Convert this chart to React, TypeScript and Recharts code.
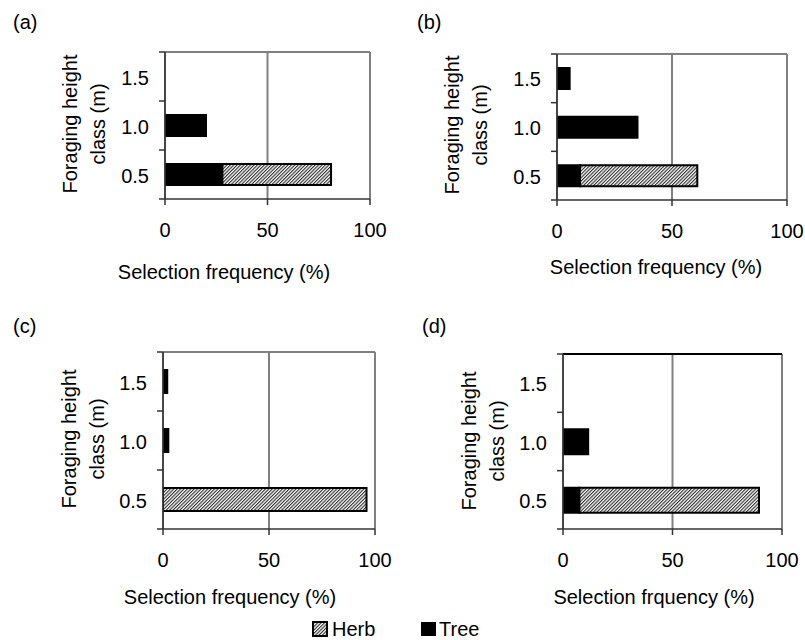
import React from "react";
import { Bar, BarChart, CartesianGrid, XAxis, YAxis } from "recharts";

// foraging height classes, top to bottom
const HEIGHT_CLASSES = ["1.5", "1.0", "0.5"];
const X_TICKS = [0, 50, 100];

// selection frequency (%) per height class
const TREE_A = [0, 20, 28];
const HERB_A = [0, 0, 53];
const TREE_B = [5.5, 35, 10];
const HERB_B = [0, 0, 51];
const TREE_C = [2, 2.5, 0];
const HERB_C = [0, 0, 96];
const TREE_D = [0, 11.5, 7.5];
const HERB_D = [0, 0, 82];

const FONT = "'Liberation Sans', Arial, Helvetica, sans-serif";
const GRAY = "#808080";
const AXIS = "#333333";

const Y_AXIS_W = 55;
const X_AXIS_H = 50;
const M_TOP = 5;
const M_RIGHT = 20;

type Rect = { left: number; right: number; top: number; bottom: number };

type PanelProps = {
  id: string;
  tree: number[];
  herb: number[];
  plot: Rect;
  barSize: number;
  topColor: string;
};

function HatchPattern({ id }: { id: string }) {
  return (
    <pattern
      id={id}
      width={2.4}
      height={2.4}
      patternUnits="userSpaceOnUse"
      patternTransform="rotate(45)"
    >
      <rect width={2.4} height={2.4} fill="#ffffff" />
      <rect width={1.1} height={2.4} fill="#2a2a2a" />
    </pattern>
  );
}

function Panel({ id, tree, herb, plot, barSize, topColor }: PanelProps) {
  const data = HEIGHT_CLASSES.map((h, i) => ({ h, tree: tree[i], herb: herb[i] }));
  const left = plot.left - Y_AXIS_W;
  const top = plot.top - M_TOP;
  const width = plot.right - left + M_RIGHT;
  const height = plot.bottom - top + X_AXIS_H;
  const band = (plot.bottom - plot.top) / HEIGHT_CLASSES.length;

  const heightTick = (props: any) => {
    const { x, y, payload, index } = props;
    return (
      <g>
        <line x1={x - 6} x2={x} y1={y + band / 2} y2={y + band / 2} stroke={AXIS} strokeWidth={1.5} />
        {index === 0 && (
          <line x1={x - 6} x2={x} y1={y - band / 2} y2={y - band / 2} stroke={AXIS} strokeWidth={1.5} />
        )}
        <text x={x - 16} y={y + 8} textAnchor="end" fontSize={20} fontFamily={FONT} fill="#000">
          {payload.value}
        </text>
      </g>
    );
  };

  return (
    <div style={{ position: "absolute", left, top }}>
      <BarChart
        width={width}
        height={height}
        data={data}
        layout="vertical"
        margin={{ top: M_TOP, right: M_RIGHT, left: 0, bottom: 0 }}
      >
        <defs>
          <HatchPattern id={`hatch-${id}`} />
        </defs>
        <CartesianGrid horizontal={false} stroke={GRAY} strokeWidth={2} />
        <CartesianGrid vertical={false} horizontalPoints={[M_TOP]} stroke={topColor} strokeWidth={2} />
        <XAxis
          type="number"
          domain={[0, 100]}
          ticks={X_TICKS}
          allowDataOverflow
          height={X_AXIS_H}
          tickSize={6}
          tickMargin={18}
          tick={{ fontSize: 20, fontFamily: FONT, fill: "#000" }}
          axisLine={{ stroke: AXIS, strokeWidth: 1.5 }}
          tickLine={{ stroke: AXIS, strokeWidth: 1.5 }}
        />
        <YAxis
          type="category"
          dataKey="h"
          width={Y_AXIS_W}
          interval={0}
          tickSize={0}
          tickMargin={0}
          tickLine={false}
          tick={heightTick}
          axisLine={{ stroke: AXIS, strokeWidth: 1.5 }}
        />
        <Bar
          dataKey="tree"
          stackId="s"
          fill="#000"
          stroke="#000"
          strokeWidth={2}
          barSize={barSize}
          isAnimationActive={false}
        />
        <Bar
          dataKey="herb"
          stackId="s"
          fill={`url(#hatch-${id})`}
          stroke="#000"
          strokeWidth={2}
          barSize={barSize}
          isAnimationActive={false}
        />
      </BarChart>
    </div>
  );
}

const textBase: React.CSSProperties = {
  position: "absolute",
  fontFamily: FONT,
  fontSize: 20,
  lineHeight: "20px",
  color: "#000",
  whiteSpace: "nowrap",
};

function Label({ x, y, children, center }: { x: number; y: number; children: React.ReactNode; center?: boolean }) {
  return (
    <div style={{ ...textBase, left: x, top: y, transform: center ? "translateX(-50%)" : undefined }}>
      {children}
    </div>
  );
}

function YTitle({ x, y }: { x: number; y: number }) {
  return (
    <div
      style={{
        ...textBase,
        left: x,
        top: y,
        lineHeight: "28px",
        textAlign: "center",
        transform: "translate(-50%, -50%) rotate(-90deg)",
      }}
    >
      Foraging height
      <br />
      class (m)
    </div>
  );
}

export default function App() {
  return (
    <div
      style={{
        position: "absolute",
        left: 0,
        top: 0,
        width: 805,
        height: 640,
        background: "#fff",
        fontFamily: FONT,
      }}
    >
      <Label x={13} y={12}>(a)</Label>
      <Label x={417} y={12}>(b)</Label>
      <Label x={13} y={316}>(c)</Label>
      <Label x={422} y={316}>(d)</Label>

      <YTitle x={83.5} y={124} />
      <YTitle x={466} y={125} />
      <YTitle x={83} y={439} />
      <YTitle x={483} y={441} />

      <Panel id="a" tree={TREE_A} herb={HERB_A} plot={{ left: 165, right: 370, top: 52, bottom: 199 }} barSize={21} topColor={GRAY} />
      <Panel id="b" tree={TREE_B} herb={HERB_B} plot={{ left: 557, right: 787, top: 54, bottom: 200 }} barSize={21} topColor={GRAY} />
      <Panel id="c" tree={TREE_C} herb={HERB_C} plot={{ left: 163, right: 375, top: 352, bottom: 529 }} barSize={23} topColor={GRAY} />
      <Panel id="d" tree={TREE_D} herb={HERB_D} plot={{ left: 563, right: 782, top: 354, bottom: 529 }} barSize={25} topColor="#000" />

      <Label x={224} y={262} center>Selection frequency (%)</Label>
      <Label x={656} y={257} center>Selection frequency (%)</Label>
      <Label x={230} y={587} center>Selection frequency (%)</Label>
      <Label x={654} y={587} center>Selection frquency (%)</Label>

      {/* legend */}
      <svg style={{ position: "absolute", left: 312, top: 621 }} width={16} height={16}>
        <defs>
          <HatchPattern id="hatch-legend" />
        </defs>
        <rect x={1} y={1} width={14} height={14} fill="url(#hatch-legend)" stroke="#000" strokeWidth={2} />
      </svg>
      <Label x={332} y={619}>Herb</Label>
      <svg style={{ position: "absolute", left: 421, top: 622 }} width={15} height={14}>
        <rect width={15} height={14} fill="#000" />
      </svg>
      <Label x={439} y={619}>Tree</Label>
    </div>
  );
}
